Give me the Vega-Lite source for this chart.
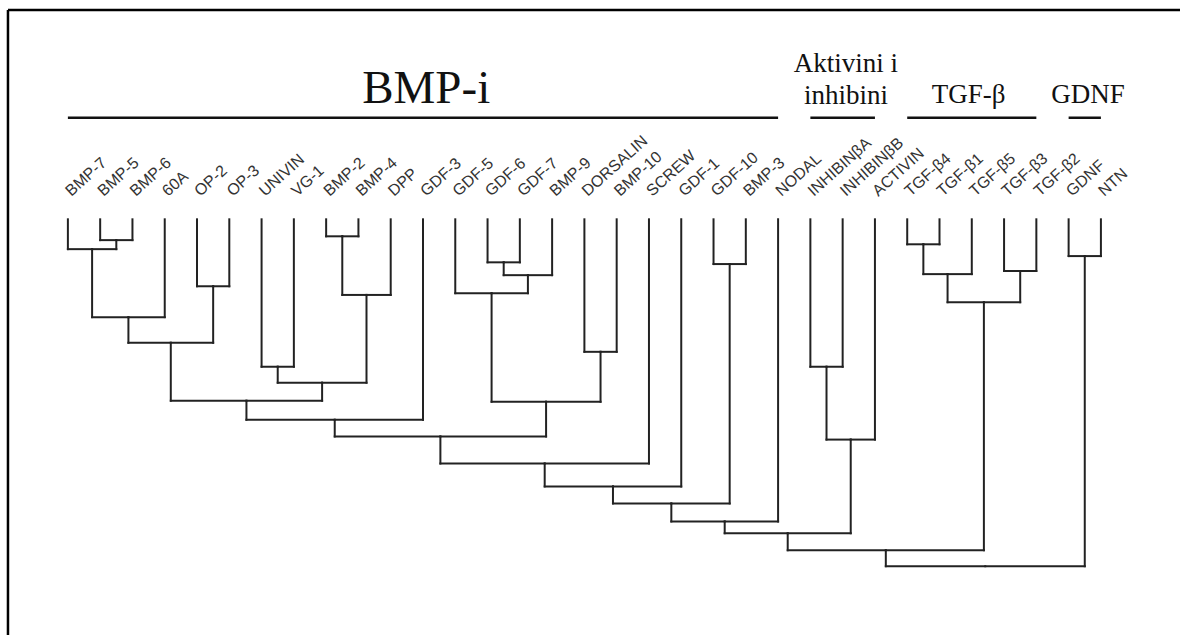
{
  "$schema": "https://vega.github.io/schema/vega-lite/v6.json",
  "autosize": {"type": "fit", "contains": "padding"},
  "width": 1182,
  "height": 637,
  "padding": 0,
  "background": "white",
  "config": {"view": {"stroke": null}},
  "datasets": {
    "leaves": [
      {"name": "BMP-7", "i": 1}, {"name": "BMP-5", "i": 2}, {"name": "BMP-6", "i": 3},
      {"name": "60A", "i": 4}, {"name": "OP-2", "i": 5}, {"name": "OP-3", "i": 6},
      {"name": "UNIVIN", "i": 7}, {"name": "VG-1", "i": 8}, {"name": "BMP-2", "i": 9},
      {"name": "BMP-4", "i": 10}, {"name": "DPP", "i": 11}, {"name": "GDF-3", "i": 12},
      {"name": "GDF-5", "i": 13}, {"name": "GDF-6", "i": 14}, {"name": "GDF-7", "i": 15},
      {"name": "BMP-9", "i": 16}, {"name": "DORSALIN", "i": 17}, {"name": "BMP-10", "i": 18},
      {"name": "SCREW", "i": 19}, {"name": "GDF-1", "i": 20}, {"name": "GDF-10", "i": 21},
      {"name": "BMP-3", "i": 22}, {"name": "NODAL", "i": 23}, {"name": "INHIBINβA", "i": 24},
      {"name": "INHIBINβB", "i": 25}, {"name": "ACTIVIN", "i": 26}, {"name": "TGF-β4", "i": 27},
      {"name": "TGF-β1", "i": 28}, {"name": "TGF-β5", "i": 29}, {"name": "TGF-β3", "i": 30},
      {"name": "TGF-β2", "i": 31}, {"name": "GDNF", "i": 32}, {"name": "NTN", "i": 33}
    ],
    "links": [
      {"cx": 2, "ch": 0, "px": 2.5, "ph": 6.0}, {"cx": 3, "ch": 0, "px": 2.5, "ph": 6.0},
      {"cx": 1, "ch": 0, "px": 1.75, "ph": 8.6}, {"cx": 2.5, "ch": 6.0, "px": 1.75, "ph": 8.6},
      {"cx": 5, "ch": 0, "px": 5.5, "ph": 19.3}, {"cx": 6, "ch": 0, "px": 5.5, "ph": 19.3},
      {"cx": 1.75, "ch": 8.6, "px": 2.875, "ph": 28.2}, {"cx": 4, "ch": 0, "px": 2.875, "ph": 28.2},
      {"cx": 2.875, "ch": 28.2, "px": 4.1875, "ph": 35.6}, {"cx": 5.5, "ch": 19.3, "px": 4.1875, "ph": 35.6},
      {"cx": 7, "ch": 0, "px": 7.5, "ph": 42.5}, {"cx": 8, "ch": 0, "px": 7.5, "ph": 42.5},
      {"cx": 9, "ch": 0, "px": 9.5, "ph": 4.9}, {"cx": 10, "ch": 0, "px": 9.5, "ph": 4.9},
      {"cx": 9.5, "ch": 4.9, "px": 10.25, "ph": 21.8}, {"cx": 11, "ch": 0, "px": 10.25, "ph": 21.8},
      {"cx": 7.5, "ch": 42.5, "px": 8.875, "ph": 47.1}, {"cx": 10.25, "ch": 21.8, "px": 8.875, "ph": 47.1},
      {"cx": 4.1875, "ch": 35.6, "px": 6.531, "ph": 52.3}, {"cx": 8.875, "ch": 47.1, "px": 6.531, "ph": 52.3},
      {"cx": 6.531, "ch": 52.3, "px": 9.266, "ph": 57.8}, {"cx": 12, "ch": 0, "px": 9.266, "ph": 57.8},
      {"cx": 14, "ch": 0, "px": 14.5, "ph": 12.4}, {"cx": 15, "ch": 0, "px": 14.5, "ph": 12.4},
      {"cx": 14.5, "ch": 12.4, "px": 15.25, "ph": 16.1}, {"cx": 16, "ch": 0, "px": 15.25, "ph": 16.1},
      {"cx": 13, "ch": 0, "px": 14.125, "ph": 21.3}, {"cx": 15.25, "ch": 16.1, "px": 14.125, "ph": 21.3},
      {"cx": 17, "ch": 0, "px": 17.5, "ph": 38.2}, {"cx": 18, "ch": 0, "px": 17.5, "ph": 38.2},
      {"cx": 14.125, "ch": 21.3, "px": 15.813, "ph": 52.6}, {"cx": 17.5, "ch": 38.2, "px": 15.813, "ph": 52.6},
      {"cx": 9.266, "ch": 57.8, "px": 12.539, "ph": 62.6}, {"cx": 15.813, "ch": 52.6, "px": 12.539, "ph": 62.6},
      {"cx": 12.539, "ch": 62.6, "px": 15.77, "ph": 70.4}, {"cx": 19, "ch": 0, "px": 15.77, "ph": 70.4},
      {"cx": 15.77, "ch": 70.4, "px": 17.885, "ph": 77.0}, {"cx": 20, "ch": 0, "px": 17.885, "ph": 77.0},
      {"cx": 21, "ch": 0, "px": 21.5, "ph": 12.9}, {"cx": 22, "ch": 0, "px": 21.5, "ph": 12.9},
      {"cx": 17.885, "ch": 77.0, "px": 19.693, "ph": 81.9}, {"cx": 21.5, "ch": 12.9, "px": 19.693, "ph": 81.9},
      {"cx": 19.693, "ch": 81.9, "px": 21.346, "ph": 87.1}, {"cx": 23, "ch": 0, "px": 21.346, "ph": 87.1},
      {"cx": 24, "ch": 0, "px": 24.5, "ph": 42.5}, {"cx": 25, "ch": 0, "px": 24.5, "ph": 42.5},
      {"cx": 24.5, "ch": 42.5, "px": 25.25, "ph": 63.5}, {"cx": 26, "ch": 0, "px": 25.25, "ph": 63.5},
      {"cx": 21.346, "ch": 87.1, "px": 23.298, "ph": 90.5}, {"cx": 25.25, "ch": 63.5, "px": 23.298, "ph": 90.5},
      {"cx": 27, "ch": 0, "px": 27.5, "ph": 7.2}, {"cx": 28, "ch": 0, "px": 27.5, "ph": 7.2},
      {"cx": 27.5, "ch": 7.2, "px": 28.25, "ph": 15.8}, {"cx": 29, "ch": 0, "px": 28.25, "ph": 15.8},
      {"cx": 30, "ch": 0, "px": 30.5, "ph": 14.9}, {"cx": 31, "ch": 0, "px": 30.5, "ph": 14.9},
      {"cx": 28.25, "ch": 15.8, "px": 29.375, "ph": 23.9}, {"cx": 30.5, "ch": 14.9, "px": 29.375, "ph": 23.9},
      {"cx": 23.298, "ch": 90.5, "px": 26.337, "ph": 95.4}, {"cx": 29.375, "ch": 23.9, "px": 26.337, "ph": 95.4},
      {"cx": 32, "ch": 0, "px": 32.5, "ph": 10.6}, {"cx": 33, "ch": 0, "px": 32.5, "ph": 10.6},
      {"cx": 26.337, "ch": 95.4, "px": 29.418, "ph": 100}, {"cx": 32.5, "ch": 10.6, "px": 29.418, "ph": 100}
    ],
    "groups": [
      {"label": "BMP-i", "start": 1, "end": 23, "center": 12.1},
      {"label": "Aktivini i\ninhibini", "start": 24, "end": 26, "center": 25.1},
      {"label": "TGF-β", "start": 27, "end": 31, "center": 28.9},
      {"label": "GDNF", "start": 32, "end": 33, "center": 32.6}
    ]
  },
  "layer": [
    {
      "data": {"values": [{}]},
      "mark": {"type": "rule", "color": "black", "strokeWidth": 2.5},
      "encoding": {
        "x": {"datum": -0.856, "type": "quantitative", "scale": {"domain": [-1.103, 35.45], "nice": false, "zero": false}, "axis": null},
        "x2": {"datum": 35.45},
        "y": {"datum": -60.34, "type": "quantitative", "scale": {"domain": [-63.22, 119.83], "nice": false, "zero": false, "reverse": true}, "axis": null}
      }
    },
    {
      "data": {"values": [{}]},
      "mark": {"type": "rule", "color": "black", "strokeWidth": 2.5},
      "encoding": {
        "x": {"datum": -0.856, "type": "quantitative", "scale": {"domain": [-1.103, 35.45], "nice": false, "zero": false}, "axis": null},
        "y": {"datum": -60.34, "type": "quantitative", "scale": {"domain": [-63.22, 119.83], "nice": false, "zero": false, "reverse": true}, "axis": null},
        "y2": {"datum": 119.83}
      }
    },
    {
      "data": {"name": "links"},
      "mark": {"type": "rule", "color": "#222222", "strokeWidth": 2, "strokeCap": "square"},
      "encoding": {
        "x": {"field": "cx", "type": "quantitative", "scale": {"domain": [-1.103, 35.45], "nice": false, "zero": false}, "axis": null},
        "y": {"field": "ch", "type": "quantitative", "scale": {"domain": [-63.22, 119.83], "nice": false, "zero": false, "reverse": true}, "axis": null},
        "y2": {"field": "ph"}
      }
    },
    {
      "data": {"name": "links"},
      "mark": {"type": "rule", "color": "#222222", "strokeWidth": 2, "strokeCap": "square"},
      "encoding": {
        "x": {"field": "cx", "type": "quantitative", "scale": {"domain": [-1.103, 35.45], "nice": false, "zero": false}, "axis": null},
        "x2": {"field": "px"},
        "y": {"field": "ph", "type": "quantitative", "scale": {"domain": [-63.22, 119.83], "nice": false, "zero": false, "reverse": true}, "axis": null}
      }
    },
    {
      "data": {"name": "leaves"},
      "mark": {"type": "text", "angle": -42, "align": "left", "baseline": "middle", "font": "Liberation Sans", "fontSize": 16, "color": "#333333"},
      "encoding": {
        "x": {"field": "i", "type": "quantitative", "scale": {"domain": [-1.103, 35.45], "nice": false, "zero": false}, "axis": null},
        "y": {"datum": -7.5, "type": "quantitative", "scale": {"domain": [-63.22, 119.83], "nice": false, "zero": false, "reverse": true}, "axis": null},
        "text": {"field": "name"}
      }
    },
    {
      "data": {"name": "groups"},
      "mark": {"type": "rule", "color": "#111111", "strokeWidth": 2.5},
      "encoding": {
        "x": {"field": "start", "type": "quantitative", "scale": {"domain": [-1.103, 35.45], "nice": false, "zero": false}, "axis": null},
        "x2": {"field": "end"},
        "y": {"datum": -29.3, "type": "quantitative", "scale": {"domain": [-63.22, 119.83], "nice": false, "zero": false, "reverse": true}, "axis": null}
      }
    },
    {
      "data": {"name": "groups"},
      "transform": [{"filter": "datum.label === 'BMP-i'"}],
      "mark": {"type": "text", "align": "center", "baseline": "alphabetic", "font": "Liberation Serif", "fontSize": 47, "color": "#111111"},
      "encoding": {
        "x": {"field": "center", "type": "quantitative", "scale": {"domain": [-1.103, 35.45], "nice": false, "zero": false}, "axis": null},
        "y": {"datum": -33.6, "type": "quantitative", "scale": {"domain": [-63.22, 119.83], "nice": false, "zero": false, "reverse": true}, "axis": null},
        "text": {"field": "label"}
      }
    },
    {
      "data": {"name": "groups"},
      "transform": [{"filter": "datum.start === 24"}],
      "mark": {"type": "text", "align": "center", "baseline": "alphabetic", "lineBreak": "\n", "lineHeight": 32, "font": "Liberation Serif", "fontSize": 27, "color": "#111111"},
      "encoding": {
        "x": {"field": "center", "type": "quantitative", "scale": {"domain": [-1.103, 35.45], "nice": false, "zero": false}, "axis": null},
        "y": {"datum": -42.5, "type": "quantitative", "scale": {"domain": [-63.22, 119.83], "nice": false, "zero": false, "reverse": true}, "axis": null},
        "text": {"field": "label"}
      }
    },
    {
      "data": {"name": "groups"},
      "transform": [{"filter": "datum.start > 24"}],
      "mark": {"type": "text", "align": "center", "baseline": "alphabetic", "font": "Liberation Serif", "fontSize": 27, "color": "#111111"},
      "encoding": {
        "x": {"field": "center", "type": "quantitative", "scale": {"domain": [-1.103, 35.45], "nice": false, "zero": false}, "axis": null},
        "y": {"datum": -33.6, "type": "quantitative", "scale": {"domain": [-63.22, 119.83], "nice": false, "zero": false, "reverse": true}, "axis": null},
        "text": {"field": "label"}
      }
    }
  ]
}
